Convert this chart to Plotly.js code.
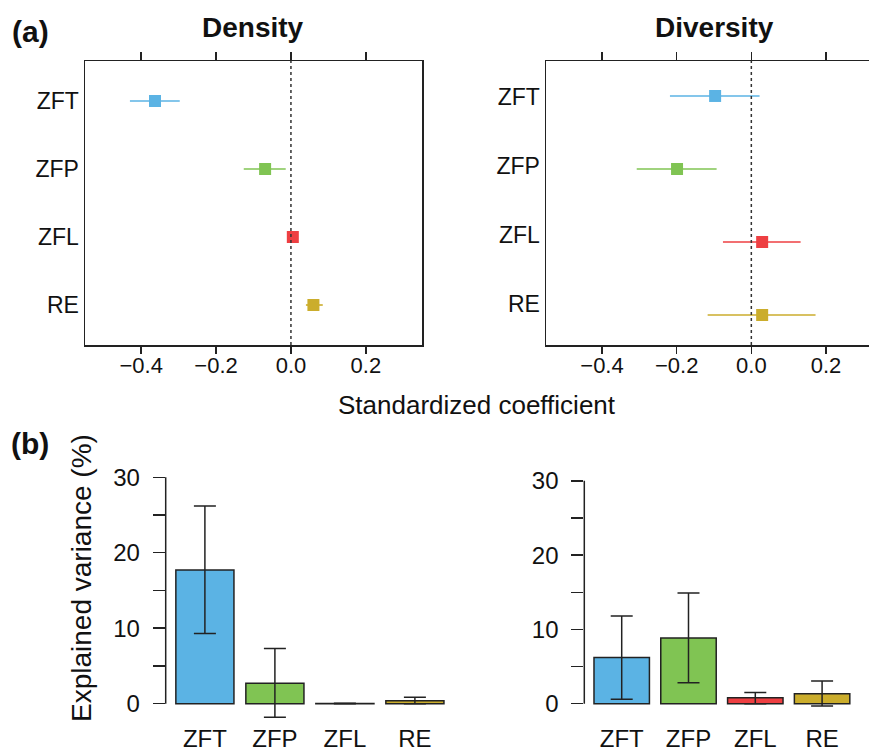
<!DOCTYPE html>
<html>
<head>
<meta charset="utf-8">
<script src="https://cdn.plot.ly/plotly-3.0.1.min.js"></script>
<style>
html, body { margin: 0; padding: 0; overflow: hidden; background: #fff; }
#chart { width: 900px; height: 750px; }
</style>
</head>
<body>
<div id="chart"></div>
<script>
// ---------- data ----------
const predictors = ["ZFT", "ZFP", "ZFL", "RE"];
const colors = ["#5BB3E4", "#80C453", "#EE3F42", "#CBAD2C"];

// (a) standardized coefficients: estimate, lower, upper
const densityCoef  = [-0.363, -0.069, 0.005, 0.060];
const densityLow   = [-0.430, -0.126, 0.000, 0.040];
const densityHigh  = [-0.297, -0.014, 0.010, 0.085];

const diversityCoef = [-0.097, -0.199, 0.029, 0.029];
const diversityLow  = [-0.218, -0.307, -0.076, -0.117];
const diversityHigh = [0.022, -0.093, 0.132, 0.172];

// (b) explained variance (%): value, lower, upper
const densityVar     = [17.7, 2.7, 0.03, 0.4];
const densityVarLow  = [9.3, -1.8, 0.0, 0.0];
const densityVarHigh = [26.2, 7.3, 0.06, 0.85];

const diversityVar     = [6.2, 8.85, 0.8, 1.35];
const diversityVarLow  = [0.6, 2.8, 0.0, -0.3];
const diversityVarHigh = [11.8, 14.9, 1.5, 3.05];

const coefTicks = [-0.4, -0.2, 0.0, 0.2];
const varTicks = [0, 5, 10, 15, 20, 25, 30];
const varTickText = ["0", "", "10", "", "20", "", "30"];

// ---------- helpers ----------
const W = 900, H = 750;
const px = v => v / W;
const py = v => 1 - v / H;
const FONT = "Liberation Sans, Arial, sans-serif";
const rowPos = predictors.map((_, i) => predictors.length - i); // 4,3,2,1

const traces = [];
function coefTraces(vals, lo, hi, xa, ya) {
  predictors.forEach((p, i) => {
    traces.push({
      type: "scatter", mode: "markers",
      x: [vals[i]], y: [rowPos[i]],
      xaxis: xa, yaxis: ya,
      marker: { symbol: "square", size: 12, color: colors[i] },
      error_x: { type: "data", symmetric: false,
        array: [hi[i] - vals[i]], arrayminus: [vals[i] - lo[i]],
        color: colors[i], thickness: 1.6, width: 0 },
      showlegend: false, hoverinfo: "x+y"
    });
  });
}
coefTraces(densityCoef, densityLow, densityHigh, "x", "y");
coefTraces(diversityCoef, diversityLow, diversityHigh, "x2", "y2");
// empty traces so the tick-only overlay axes are drawn
traces.push({ type: "scatter", x: [], y: [], xaxis: "x5", yaxis: "y", showlegend: false });
traces.push({ type: "scatter", x: [], y: [], xaxis: "x6", yaxis: "y2", showlegend: false });

function varTrace(vals, lo, hi, xa, ya) {
  traces.push({
    type: "bar", x: predictors, y: vals, xaxis: xa, yaxis: ya,
    width: 0.83,
    marker: { color: colors, line: { color: "#222", width: 1.5 } },
    error_y: { type: "data", symmetric: false,
      array: vals.map((v, i) => hi[i] - v),
      arrayminus: vals.map((v, i) => v - lo[i]),
      color: "#222", thickness: 1.5, width: 11 },
    showlegend: false
  });
}
varTrace(densityVar, densityVarLow, densityVarHigh, "x3", "y3");
varTrace(diversityVar, diversityVarLow, diversityVarHigh, "x4", "y4");

// label axis (no ticks so labels sit close to the frame)
const coefX = (dom, ya) => ({
  domain: dom, range: [-0.55, 0.35], anchor: ya,
  tickvals: coefTicks, tickformat: ".1f",
  ticks: "", showline: true, linewidth: 1.5, linecolor: "#222", mirror: true,
  showgrid: false, zeroline: false,
  tickfont: { family: FONT, size: 22, color: "#111" }
});
// tick-only overlay axis (ticks outside on both sides)
const coefXTicks = (dom, ya, over) => ({
  domain: dom, range: [-0.55, 0.35], anchor: ya, overlaying: over,
  tickvals: coefTicks, showticklabels: false,
  ticks: "outside", ticklen: 8, tickwidth: 1.5, tickcolor: "#222",
  showline: false, mirror: "ticks", showgrid: false, zeroline: false
});
const coefY = (dom, range, tickvals, xa) => ({
  domain: dom, range: range, anchor: xa,
  tickvals: tickvals, ticktext: predictors,
  ticks: "", showline: true, linewidth: 1.5, linecolor: "#222", mirror: true,
  showgrid: false, zeroline: false, ticklabelstandoff: 0,
  tickfont: { family: FONT, size: 23, color: "#111" }
});
const varX = (dom, ya) => ({
  domain: dom, range: [-0.56, 3.56], anchor: ya, type: "category",
  showline: false, ticks: "", showgrid: false, zeroline: false,
  tickfont: { family: FONT, size: 24, color: "#111" }
});
const varY = (dom, range, xa) => ({
  domain: dom, range: range, anchor: xa,
  tickvals: varTicks, ticktext: varTickText,
  ticks: "outside", ticklen: 12, tickwidth: 1.5, tickcolor: "#222",
  showline: false, showgrid: false, zeroline: false, ticklabelstandoff: 8,
  tickfont: { family: FONT, size: 24, color: "#111" }
});

const topY = [py(345), py(61)];
const leftTopX = [px(85), px(422)];
const rightTopX = [px(546), px(882)];
const layout = {
  width: W, height: H,
  margin: { l: 0, r: 0, t: 0, b: 0 },
  paper_bgcolor: "#fff", plot_bgcolor: "#fff",
  font: { family: FONT, color: "#111" },
  showlegend: false,
  xaxis: coefX(leftTopX, "y"),
  yaxis: coefY(topY, [0.412, 4.588], rowPos, "x"),
  xaxis2: coefX(rightTopX, "y2"),
  yaxis2: coefY(topY, [0.589, 4.479], [3.986, 3.041, 2.096, 1.150], "x2"),
  xaxis5: coefXTicks(leftTopX, "y", "x"),
  xaxis6: coefXTicks(rightTopX, "y2", "x2"),
  xaxis3: varX([px(165.7), px(454.1)], "y3"),
  yaxis3: varY([py(721.8), py(469.7)], [-2.4, 31], "x3"),
  xaxis4: varX([px(584.3), px(859.5)], "y4"),
  yaxis4: varY([py(721.5), py(473.4)], [-2.4, 31], "x4"),
  shapes: [
    { type: "line", xref: "x", yref: "y domain", x0: 0, x1: 0, y0: 0, y1: 1,
      line: { color: "#333", width: 1.5, dash: "dot" } },
    { type: "line", xref: "x2", yref: "y2 domain", x0: 0, x1: 0, y0: 0, y1: 1,
      line: { color: "#333", width: 1.5, dash: "dot" } },
    { type: "line", xref: "x3 domain", yref: "y3", x0: 0, x1: 0, y0: 0, y1: 30,
      line: { color: "#222", width: 1.5 } },
    { type: "line", xref: "x4 domain", yref: "y4", x0: 0, x1: 0, y0: 0, y1: 30,
      line: { color: "#222", width: 1.5 } }
  ],
  annotations: [
    { text: "<b>(a)</b>", x: px(30), y: py(31) },
    { text: "<b>(b)</b>", x: px(30), y: py(443) },
    { text: "<b>Density</b>", x: px(253), y: py(27), size: 28 },
    { text: "<b>Diversity</b>", x: px(714), y: py(27), size: 28 },
    { text: "Standardized coefficient", x: px(477), y: py(405), size: 26 },
    { text: "Explained variance (%)", x: px(81), y: py(578), size: 28, textangle: -90 }
  ].map(a => ({
    text: a.text, x: a.x, y: a.y, xref: "paper", yref: "paper",
    xanchor: "center", yanchor: "middle", showarrow: false,
    textangle: a.textangle || 0,
    font: { family: FONT, size: a.size || 30, color: "#111" }
  }))
};

Plotly.newPlot("chart", traces, layout, { displayModeBar: false, staticPlot: true });
</script>
</body>
</html>
